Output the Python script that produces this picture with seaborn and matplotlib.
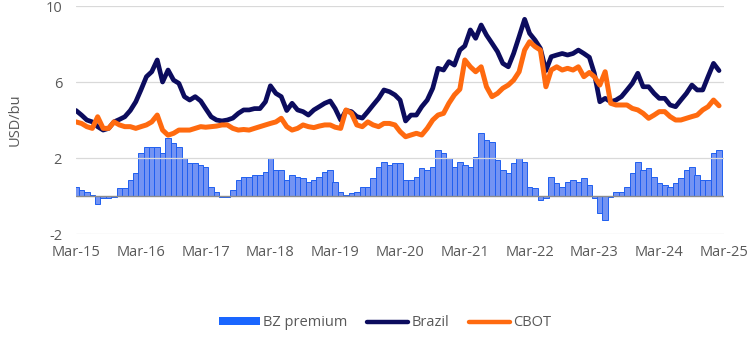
import numpy as np
import pandas as pd
import matplotlib
matplotlib.use("Agg")
import matplotlib.pyplot as plt
from matplotlib.patches import Patch
from matplotlib.lines import Line2D
import seaborn as sns

# Monthly values, starting Mar-2015
start = "2015-03-01"
brazil = [4.5, 4.26, 4.0, 3.9, 3.65, 3.47, 3.56, 3.9, 4.03, 4.17, 4.5, 4.96,
          5.58, 6.28, 6.54, 7.16, 6.0, 6.63, 6.1, 5.93, 5.23, 5.05, 5.23, 5.0,
          4.6, 4.17, 4.0, 3.95, 4.0, 4.1, 4.35, 4.53, 4.53, 4.6, 4.6, 4.96,
          5.8, 5.4, 5.23, 4.5, 4.88, 4.53, 4.44, 4.26, 4.53, 4.7, 4.88, 5.0,
          4.6, 4.0, 4.5, 4.44, 4.18, 4.1, 4.44, 4.79, 5.14, 5.58, 5.49, 5.32,
          5.05, 3.95, 4.26, 4.26, 4.7, 5.05, 5.67, 6.72, 6.63, 7.07, 6.89, 7.68,
          7.9, 8.74, 8.3, 9.0, 8.47, 8.04, 7.6, 6.98, 6.8, 7.5, 8.39, 9.3,
          8.56, 8.2, 7.77, 6.6, 7.33, 7.42, 7.5, 7.42, 7.5, 7.68, 7.5, 7.3,
          6.46, 4.96, 5.14, 4.96, 5.05, 5.23, 5.58, 5.93, 6.46, 5.75, 5.75, 5.4,
          5.14, 5.14, 4.79, 4.7, 5.05, 5.4, 5.84, 5.58, 5.58, 6.28, 6.98, 6.6]
cbot = [3.9, 3.82, 3.65, 3.56, 4.17, 3.56, 3.56, 3.9, 3.74, 3.65, 3.65, 3.56,
        3.65, 3.74, 3.9, 4.26, 3.47, 3.2, 3.3, 3.47, 3.47, 3.47, 3.56, 3.65,
        3.62, 3.65, 3.68, 3.74, 3.74, 3.56, 3.47, 3.5, 3.47, 3.56, 3.65, 3.74,
        3.82, 3.9, 4.09, 3.65, 3.47, 3.56, 3.74, 3.65, 3.6, 3.68, 3.74, 3.74,
        3.62, 3.56, 4.53, 4.35, 3.74, 3.65, 3.9, 3.74, 3.65, 3.82, 3.82, 3.74,
        3.39, 3.12, 3.21, 3.3, 3.21, 3.56, 4.0, 4.26, 4.35, 4.88, 5.32, 5.62,
        7.16, 6.8, 6.54, 6.8, 5.75, 5.23, 5.4, 5.67, 5.84, 6.1, 6.54, 7.68,
        8.12, 7.86, 7.68, 5.75, 6.63, 6.8, 6.63, 6.72, 6.63, 6.8, 6.28, 6.5,
        6.28, 5.84, 6.54, 4.88, 4.79, 4.79, 4.79, 4.61, 4.53, 4.35, 4.09, 4.26,
        4.44, 4.44, 4.18, 4.0, 4.0, 4.09, 4.18, 4.26, 4.53, 4.7, 5.05, 4.75]
bz_premium = [0.5, 0.3, 0.2, 0.05, -0.4, -0.12, -0.12, -0.03, 0.4, 0.4, 0.84, 1.2,
              2.25, 2.6, 2.6, 2.6, 2.25, 3.03, 2.77, 2.6, 1.98, 1.72, 1.72, 1.63,
              1.55, 0.5, 0.23, -0.03, -0.05, 0.3, 0.84, 1.0, 1.0, 1.1, 1.1, 1.28,
              1.98, 1.37, 1.37, 0.84, 1.1, 1.0, 0.93, 0.75, 0.84, 1.0, 1.28, 1.37,
              0.75, 0.23, 0.05, 0.14, 0.23, 0.5, 0.5, 0.93, 1.55, 1.8, 1.63, 1.72,
              1.72, 0.84, 0.84, 1.0, 1.46, 1.37, 1.55, 2.42, 2.25, 1.98, 1.55, 1.8,
              1.63, 1.55, 2.07, 3.3, 2.95, 2.86, 1.9, 1.37, 1.2, 1.72, 1.98, 1.8,
              0.5, 0.4, -0.2, -0.1, 1.0, 0.67, 0.5, 0.75, 0.84, 0.75, 0.93, 0.6,
              -0.12, -0.9, -1.26, -0.03, 0.23, 0.23, 0.5, 1.2, 1.8, 1.37, 1.46, 1.0,
              0.67, 0.58, 0.5, 0.67, 0.93, 1.37, 1.55, 1.1, 0.84, 0.84, 2.25, 2.42]
tick_labels = ["Mar-15", "Mar-16", "Mar-17", "Mar-18", "Mar-19", "Mar-20",
               "Mar-21", "Mar-22", "Mar-23", "Mar-24", "Mar-25"]
y_ticks = [-2, 2, 6, 10]

dates = pd.date_range(start, periods=len(brazil), freq="MS")
df = pd.DataFrame({"date": dates, "Brazil": brazil, "CBOT": cbot,
                   "BZ premium": bz_premium})

sns.set_theme(style="white")
plt.rcParams["font.family"] = ["Open Sans", "DejaVu Sans"]
plt.rcParams["axes.unicode_minus"] = False

TXT = "#595959"
C_BAR_FILL = "#7393f3"
C_BAR_EDGE = "#1f5ff0"
C_BRAZIL = "#0c0c5e"
C_CBOT = "#ff6a0f"

fig = plt.figure(figsize=(7.55, 3.41), dpi=100)
ax = fig.add_axes([76 / 755, 1 - 234 / 341, (724 - 76) / 755, (234 - 6) / 341])
ax.set_axisbelow(False)

ax.bar(df["date"], df["BZ premium"], width=31, color=C_BAR_FILL,
       edgecolor=C_BAR_EDGE, linewidth=0.7, zorder=1)
ax.axhline(0, color="#8c8c8c", lw=1.0, zorder=3)
sns.lineplot(data=df, x="date", y="Brazil", ax=ax, color=C_BRAZIL, lw=3.4,
             legend=False, zorder=4)
sns.lineplot(data=df, x="date", y="CBOT", ax=ax, color=C_CBOT, lw=3.6,
             legend=False, zorder=5)

ax.set_ylim(-2, 10)
ax.set_yticks(y_ticks)
ax.set_xlim(dates[0], pd.Timestamp("2025-03-01"))
xt = pd.date_range("2015-03-01", "2025-03-01", freq="12MS")
ax.set_xticks(xt)
ax.set_xticklabels(tick_labels)
ax.grid(axis="y", color="#d9d9d9", lw=0.9, zorder=2)
ax.grid(axis="x", visible=False)
for line in ax.get_ygridlines():
    line.set_zorder(2)
for s in ax.spines.values():
    s.set_visible(False)
ax.tick_params(axis="both", length=0, labelsize=10.5, colors=TXT)
ax.tick_params(axis="y", pad=10)
ax.tick_params(axis="x", pad=8)
ax.set_xlabel("")
ax.set_ylabel("USD/bu", fontsize=10.5, color=TXT)
ax.yaxis.set_label_coords((23 - 76) / 648, 0.5)

handles = [Patch(facecolor="#1a66ff", edgecolor="none"),
           Line2D([0], [0], color=C_BRAZIL, lw=3.2),
           Line2D([0], [0], color=C_CBOT, lw=3.2)]
fig.legend(handles, ["BZ premium", "Brazil", "CBOT"], loc="center",
           bbox_to_anchor=(0.51, 0.053), ncol=3, frameon=False, fontsize=10.5,
           handlelength=2.8, handleheight=0.5, handletextpad=0.2,
           columnspacing=1.4, labelcolor=TXT)

fig.savefig("out.png", dpi=100)
